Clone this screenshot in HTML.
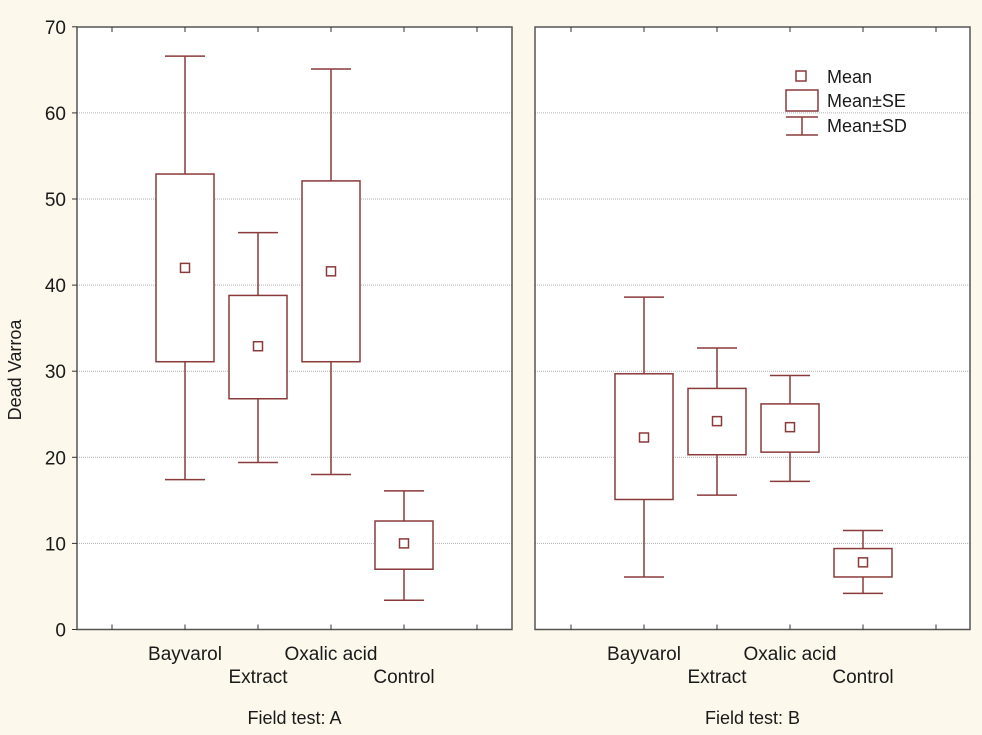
<!DOCTYPE html>
<html><head><meta charset="utf-8"><style>
html,body{margin:0;padding:0;background:#fdf8ec;}
svg{display:block;}
text{font-family:"Liberation Sans",sans-serif;fill:#1a1a1a;}
</style></head><body>
<svg id="s" width="982" height="735" viewBox="0 0 982 735" xmlns="http://www.w3.org/2000/svg">
<rect width="982" height="735" fill="#fdf8ec"/>
</svg>
<script>
const s=document.getElementById('s');const NS='http://www.w3.org/2000/svg';
function el(t,a,txt){const e=document.createElementNS(NS,t);for(const k in a)e.setAttribute(k,a[k]);if(txt!==undefined)e.textContent=txt;s.appendChild(e);return e;}
const Y=v=>629.5-v*8.61;
const C='#8b3a3a';
const panels=[{x0:77,x1:512,t0:112,lab:'Field test: A',data:[[17.4,66.6,31.1,52.9,42.0],[19.4,46.1,26.8,38.8,32.9],[18.0,65.1,31.1,52.1,41.6],[3.4,16.1,7.0,12.6,10.0]]},
{x0:535,x1:970,t0:571,lab:'Field test: B',data:[[6.1,38.6,15.1,29.7,22.3],[15.6,32.7,20.3,28.0,24.2],[17.2,29.5,20.6,26.2,23.5],[4.2,11.5,6.1,9.4,7.8]]}];
const names=['Bayvarol','Extract','Oxalic acid','Control'];
panels.forEach(p=>{
 el('rect',{x:p.x0,y:27,width:p.x1-p.x0,height:602.5,fill:'#fff'});
 for(let v=10;v<70;v+=10)el('line',{x1:p.x0,x2:p.x1,y1:Y(v),y2:Y(v),stroke:'#b0b0b0','stroke-dasharray':'1,1','stroke-width':1});
 el('rect',{x:p.x0,y:27,width:p.x1-p.x0,height:602.5,fill:'none',stroke:'#555','stroke-width':1.5});
 for(let k=0;k<6;k++){const x=p.t0+73*k;el('line',{x1:x,x2:x,y1:27,y2:32,stroke:'#333'});el('line',{x1:x,x2:x,y1:629.5,y2:624.5,stroke:'#333'});}
 p.data.forEach((d,i)=>{const x=p.t0+73*(i+1);
  el('line',{x1:x,x2:x,y1:Y(d[1]),y2:Y(d[0]),stroke:C,'stroke-width':1.5});
  el('line',{x1:x-20,x2:x+20,y1:Y(d[1]),y2:Y(d[1]),stroke:C,'stroke-width':1.5});
  el('line',{x1:x-20,x2:x+20,y1:Y(d[0]),y2:Y(d[0]),stroke:C,'stroke-width':1.5});
  el('rect',{x:x-29,y:Y(d[3]),width:58,height:Y(d[2])-Y(d[3]),fill:'#fff',stroke:C,'stroke-width':1.5});
  el('rect',{x:x-4.5,y:Y(d[4])-4.5,width:9,height:9,fill:'#fff',stroke:C,'stroke-width':1.5});
  el('text',{x:x,y:i%2?683:660,'text-anchor':'middle','font-size':19},names[i]);
 });
 el('text',{x:(p.x0+p.x1)/2,y:724,'text-anchor':'middle','font-size':18},p.lab);
});
for(let v=0;v<=70;v+=10){el('line',{x1:72,x2:77,y1:Y(v),y2:Y(v),stroke:'#333'});el('text',{x:66,y:Y(v)+7,'text-anchor':'end','font-size':19},String(v));}
el('text',{x:0,y:0,'text-anchor':'middle','font-size':18,transform:'translate(21,370) rotate(-90)'},'Dead Varroa');
el('rect',{x:796,y:71,width:10,height:10,fill:'#fff',stroke:C,'stroke-width':1.5});
el('rect',{x:786,y:90,width:32,height:21,fill:'#fff',stroke:C,'stroke-width':1.5});
el('line',{x1:786,x2:818,y1:117,y2:117,stroke:C,'stroke-width':1.5});
el('line',{x1:786,x2:818,y1:135,y2:135,stroke:C,'stroke-width':1.5});
el('line',{x1:802,x2:802,y1:117,y2:135,stroke:C,'stroke-width':1.5});
el('text',{x:827,y:83,'font-size':18},'Mean');
el('text',{x:827,y:107,'font-size':18},'Mean±SE');
el('text',{x:827,y:132,'font-size':18},'Mean±SD');
</script>
</body></html>
